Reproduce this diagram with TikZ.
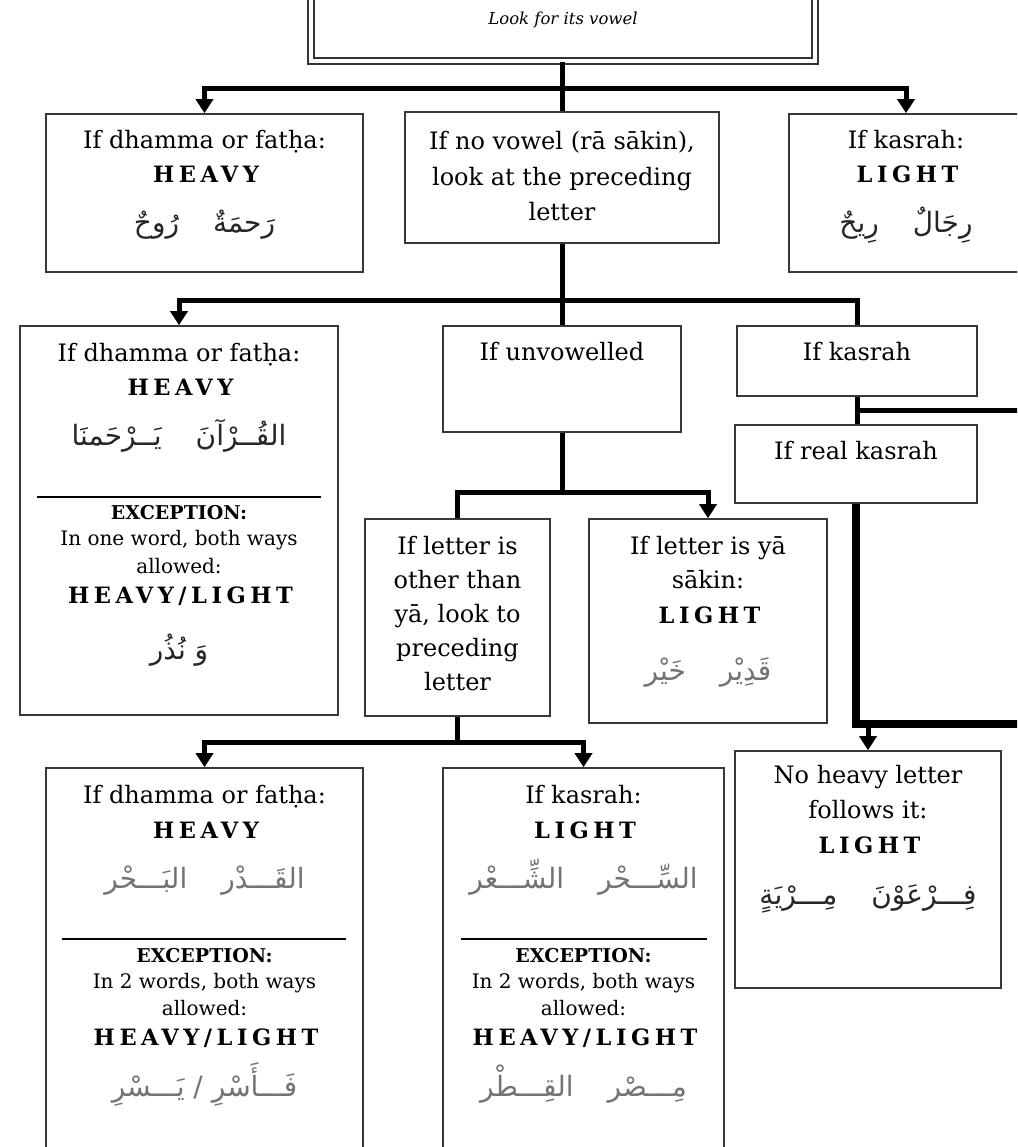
\documentclass[tikz,border=0pt]{standalone}
\usepackage{fontspec}
\setmainfont{DejaVu Serif}
\newfontfamily\trackfont[LetterSpace=20]{DejaVu Serif}
\newfontfamily\arabicfont[Script=Arabic]{DejaVu Sans}
\TeXXeTstate=1
\usetikzlibrary{arrows.meta,calc}

\begin{document}
\begin{tikzpicture}[x=1pt,y=-1pt,
  box/.style={draw=black!78,line width=1.6pt,fill=white,inner sep=0pt},
  topbox/.style={draw=black!80,line width=1.6pt,double=white,double distance=4.5pt,inner sep=0pt},
  conn/.style={line width=5pt},
  heavyconn/.style={line width=8pt},
  arr/.style={line width=5pt,-{Triangle[width=17pt,length=14pt]}},
  sepline/.style={line width=1.5pt},
  tx/.style={anchor=base,inner sep=0pt,font=\fontsize{24}{29}\selectfont},
  it/.style={anchor=base,inner sep=0pt,font=\itshape\fontsize{16.5}{20}\selectfont},
  hv/.style={anchor=base,inner sep=0pt,font=\trackfont\bfseries\fontsize{22.5}{26}\selectfont},
  ex/.style={anchor=base,inner sep=0pt,font=\bfseries\fontsize{19}{22}\selectfont},
  sm/.style={anchor=base,inner sep=0pt,font=\fontsize{20}{24}\selectfont},
  ar/.style={anchor=base,inner sep=0pt,font=\arabicfont\fontsize{28}{32}\selectfont},
  dark/.style={text=black!85},
  pale/.style={text=black!55}]

\useasboundingbox (0,0) rectangle (1017,1147);
\fill[white] (0,0) rectangle (1017,1147);
\clip (0,0) rectangle (1017,1147);

% ---------- boxes ----------
\node[topbox,minimum width=504pt,minimum height=122pt] (top) at (563,0) {};
\node[box,minimum width=317pt,minimum height=158pt] (b1L) at (204.5,193) {};
\node[box,minimum width=314pt,minimum height=131pt] (b1M) at (562,177.5) {};
\node[box,minimum width=234pt,minimum height=158pt] (b1R) at (906,193) {};
\node[box,minimum width=318pt,minimum height=389pt] (b2L) at (179,520.5) {};
\node[box,minimum width=238pt,minimum height=106pt] (b2M) at (562,379) {};
\node[box,minimum width=240pt,minimum height=70pt] (b2R) at (857,361) {};
\node[box,minimum width=242pt,minimum height=78pt] (bRK) at (856,464) {};
\node[box,minimum width=185pt,minimum height=197pt] (b3L) at (457.5,617.5) {};
\node[box,minimum width=238pt,minimum height=204pt] (b3Y) at (708,621) {};
\node[box,minimum width=317pt,minimum height=412pt] (b4L) at (204.5,974) {};
\node[box,minimum width=281pt,minimum height=412pt] (b4M) at (583.5,974) {};
\node[box,minimum width=266pt,minimum height=237pt] (b4R) at (868,869.5) {};

% ---------- texts ----------
\node[it] (tTop) at (563,25) {Look for its vowel};

\node[tx] (t1La) at (204.5,149) {If dhamma or fatḥa:};
\node[hv] (t1Lb) at (206,183) {HEAVY};
\node[ar,dark] (t1Lc) at (204.5,233) {\beginR رَحمَةٌ\hspace{34pt}رُوحٌ\endR};

\node[tx] (t1Ma) at (562,150) {If no vowel (rā sākin),};
\node[tx] (t1Mb) at (562,186) {look at the preceding};
\node[tx] (t1Mc) at (562,221) {letter};

\node[tx] (t1Ra) at (906,149) {If kasrah:};
\node[hv] (t1Rb) at (907.5,183) {LIGHT};
\node[ar,dark] (t1Rc) at (906,233) {\beginR رِجَالٌ\hspace{34pt}رِيحٌ\endR};

\node[tx] (t2La) at (179,361) {If dhamma or fatḥa:};
\node[hv] (t2Lb) at (180.5,395) {HEAVY};
\node[ar,dark] (t2Lc) at (179,445) {\beginR القُــرْآنَ\hspace{34pt}يَــرْحَمنَا\endR};
\node[ex] (t2Ld) at (179,519) {EXCEPTION:};
\node[sm] (t2Le) at (179,545) {In one word, both ways};
\node[sm] (t2Lf) at (179,573) {allowed:};
\node[hv] (t2Lg) at (180.5,603) {HEAVY/LIGHT};
\node[ar,dark] (t2Lh) at (179,659) {\beginR وَ نُذُر\endR};

\node[tx] (t2Ma) at (562,360) {If unvowelled};
\node[tx] (t2Ra) at (857,360) {If kasrah};
\node[tx] (tRKa) at (856,459) {If real kasrah};

\node[tx] (t3La) at (457.5,554) {If letter is};
\node[tx] (t3Lb) at (457.5,588) {other than};
\node[tx] (t3Lc) at (457.5,622) {yā, look to};
\node[tx] (t3Ld) at (457.5,656) {preceding};
\node[tx] (t3Le) at (457.5,690) {letter};

\node[tx] (t3Ya) at (708,554) {If letter is yā};
\node[tx] (t3Yb) at (708,588) {sākin:};
\node[hv] (t3Yc) at (709.5,623) {LIGHT};
\node[ar,pale] (t3Yd) at (708,680) {\beginR قَدِيْر\hspace{34pt}خَيْر\endR};

\node[tx] (t4La) at (204.5,803) {If dhamma or fatḥa:};
\node[hv] (t4Lb) at (206,838) {HEAVY};
\node[ar,pale] (t4Lc) at (204.5,888) {\beginR القَـــدْر\hspace{34pt}البَـــحْر\endR};
\node[ex] (t4Ld) at (204.5,962) {EXCEPTION:};
\node[sm] (t4Le) at (204.5,988) {In 2 words, both ways};
\node[sm] (t4Lf) at (204.5,1015) {allowed:};
\node[hv] (t4Lg) at (206,1045) {HEAVY/LIGHT};
\node[ar,pale] (t4Lh) at (204.5,1096) {\beginR فَـــأَسْرِ / يَـــسْرِ\endR};

\node[tx] (t4Ma) at (583.5,803) {If kasrah:};
\node[hv] (t4Mb) at (585,838) {LIGHT};
\node[ar,pale] (t4Mc) at (583.5,888) {\beginR السِّـــحْر\hspace{34pt}الشِّـــعْر\endR};
\node[ex] (t4Md) at (583.5,962) {EXCEPTION:};
\node[sm] (t4Me) at (583.5,988) {In 2 words, both ways};
\node[sm] (t4Mf) at (583.5,1015) {allowed:};
\node[hv] (t4Mg) at (585,1045) {HEAVY/LIGHT};
\node[ar,pale] (t4Mh) at (583.5,1096) {\beginR مِـــصْر\hspace{34pt}القِـــطْر\endR};

\node[tx] (t4Ra) at (868,783) {No heavy letter};
\node[tx] (t4Rb) at (868,818) {follows it:};
\node[hv] (t4Rc) at (869.5,853) {LIGHT};
\node[ar,dark] (t4Rd) at (868,904) {\beginR فِـــرْعَوْنَ\hspace{34pt}مِـــرْيَةٍ\endR};

% rules inside the tall boxes
\draw[sepline] ($(b2L.north west)+(18,172)$) -- ($(b2L.north east)+(-18,172)$);
\draw[sepline] ($(b4L.north west)+(17,172)$) -- ($(b4L.north east)+(-18,172)$);
\draw[sepline] ($(b4M.north west)+(19,172)$) -- ($(b4M.north east)+(-18,172)$);

% ---------- connectors ----------
\coordinate (j1) at (562,88.5);
\coordinate (j2) at (562,300);
\coordinate (j3) at (857,410);
\coordinate (e1) at (1030,410);
\coordinate (j4) at (562,492.5);
\coordinate (j5) at (457.5,742.5);
\coordinate (e2) at (1030,723.5);

\draw[conn] (top.south -| b1M.north) -- (b1M.north);
\draw[arr] (j1) -| (b1L.north);
\draw[arr] (j1) -| (b1R.north);

\draw[conn] (b1M.south) -- (b2M.north);
\draw[arr] (j2) -| (b2L.north);
\draw[conn] (j2) -| (b2R.north);

\draw[conn] (b2R.south) -- (b2R.south |- bRK.north);
\draw[conn] (j3) -- (e1);

\draw[heavyconn] (bRK.south) |- (e2);
\draw[arr] (b4R.north |- e2) -- (b4R.north);

\draw[conn] (b2M.south) -- (j4);
\draw[conn] (j4) -| (b3L.north);
\draw[arr] (j4) -| (b3Y.north);

\draw[conn] (b3L.south) -- (j5);
\draw[arr] (j5) -| (b4L.north);
\draw[arr] (j5) -| (b4M.north);
\end{tikzpicture}
\end{document}
